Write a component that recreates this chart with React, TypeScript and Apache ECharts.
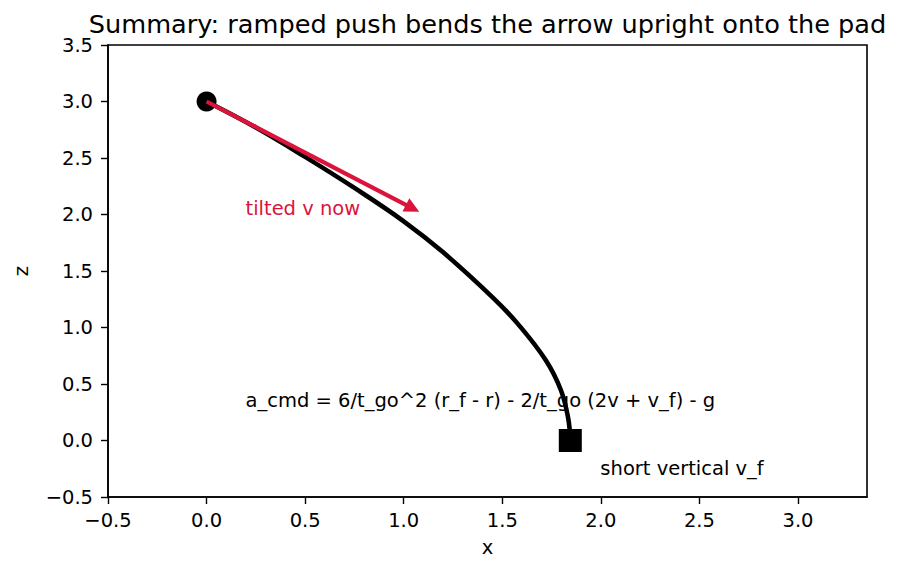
import React, { useEffect, useRef } from "react";
import * as echarts from "echarts";

// ---- data ----
const xTicks = [-0.5, 0, 0.5, 1.0, 1.5, 2.0, 2.5, 3.0];
const yTicks = [-0.5, 0, 0.5, 1.0, 1.5, 2.0, 2.5, 3.0, 3.5];
const xRange = [-0.5, 3.35];
const yRange = [-0.5, 3.5];

const pathX = [0, 0.25, 0.5, 0.75, 1.0, 1.2, 1.456, 1.58, 1.72, 1.797, 1.834, 1.845];
const pathZ = [3.0, 2.77, 2.51, 2.235, 1.94, 1.665, 1.258, 1.03, 0.712, 0.447, 0.2, 0.0];

const startPoint = [0, 3];
const padPoint = [1.845, 0];
const velocityTip = [1.045, 2.055];

const titleText = "Summary: ramped push bends the arrow upright onto the pad";
const noteTexts = ["tilted v now", "a_cmd = 6/t_go^2 (r_f - r) - 2/t_go (2v + v_f) - g", "short vertical v_f"];
const noteX = [0.2, 0.2, 2.0];
const noteZ = [2.0, 0.3, -0.3];
const noteColors = ["#DC143C", "#000000", "#000000"];

const FONT = "DejaVu Sans";
const fmt = (v: number) => (v < 0 ? "\u2212" + Math.abs(v).toFixed(1) : v.toFixed(1));

export default function App() {
  const ref = useRef<HTMLDivElement>(null);
  useEffect(() => {
    const chart = echarts.init(ref.current!, null, { renderer: "svg" });
    const curve = pathX.map((x, i) => [x, pathZ[i]]);
    chart.setOption({
      animation: false,
      backgroundColor: "#ffffff",
      textStyle: { fontFamily: FONT },
      title: {
        text: titleText,
        left: 482.5,
        textAlign: "center",
        top: 6,
        textStyle: { fontFamily: FONT, fontSize: 25.6, fontWeight: "normal", color: "#000" },
      },
      grid: {
        left: 108,
        right: 33,
        top: 45,
        bottom: 76,
        show: true,
        borderColor: "#000",
        borderWidth: 1.6,
        backgroundColor: "transparent",
      },
      xAxis: {
        type: "value",
        min: xRange[0],
        max: xRange[1],
        interval: 0.5,
        name: "x",
        nameLocation: "middle",
        nameGap: 40,
        nameTextStyle: { fontFamily: FONT, fontSize: 19.5, color: "#000" },
        axisLine: { show: true, onZero: false, lineStyle: { color: "#000", width: 1.6 } },
        axisTick: { show: true, length: 7, customValues: xTicks, lineStyle: { color: "#000", width: 1.4 } },
        axisLabel: {
          show: true,
          margin: 13,
          customValues: xTicks,
          formatter: fmt,
          fontFamily: FONT,
          fontSize: 19.5,
          color: "#000",
        },
        splitLine: { show: false },
      },
      yAxis: {
        type: "value",
        min: yRange[0],
        max: yRange[1],
        interval: 0.5,
        name: "z",
        nameLocation: "middle",
        nameGap: 77,
        nameRotate: 90,
        nameTextStyle: { fontFamily: FONT, fontSize: 19.5, color: "#000" },
        axisLine: { show: true, onZero: false, lineStyle: { color: "#000", width: 1.6 } },
        axisTick: { show: true, length: 7, customValues: yTicks, lineStyle: { color: "#000", width: 1.4 } },
        axisLabel: {
          show: true,
          margin: 15,
          customValues: yTicks,
          formatter: fmt,
          fontFamily: FONT,
          fontSize: 19.5,
          color: "#000",
        },
        splitLine: { show: false },
      },
      series: [
        {
          type: "line",
          data: curve,
          smooth: 0.4,
          smoothConstraint: false,
          showSymbol: false,
          symbol: "none",
          lineStyle: { color: "#000", width: 4.6, opacity: 1 },
          z: 2,
        },
        {
          type: "scatter",
          data: [startPoint],
          symbol: "circle",
          symbolSize: 20,
          itemStyle: { color: "#000", opacity: 1 },
          z: 3,
        },
        {
          type: "lines",
          coordinateSystem: "cartesian2d",
          polyline: false,
          data: [{ coords: [startPoint, velocityTip] }],
          symbol: ["none", "triangle"],
          symbolSize: 15,
          lineStyle: { color: "#DC143C", width: 4.2, opacity: 1 },
          itemStyle: { color: "#DC143C", opacity: 1 },
          z: 4,
        },
        {
          type: "scatter",
          data: [padPoint],
          symbol: "rect",
          symbolSize: 23,
          itemStyle: { color: "#000", opacity: 1 },
          z: 5,
        },
        {
          type: "scatter",
          data: noteTexts.map((t, i) => ({
            value: [noteX[i], noteZ[i]],
            name: t,
            label: { color: noteColors[i] },
          })),
          symbolSize: 1,
          itemStyle: { color: "transparent", opacity: 1 },
          silent: true,
          z: 6,
          label: {
            show: true,
            position: [0, 0],
            align: "left",
            verticalAlign: "middle",
            offset: [0, -5.5],
            opacity: 1,
            fontFamily: FONT,
            fontSize: 19.5,
            formatter: (p: any) => p.name,
          },
        },
      ],
    });
    return () => chart.dispose();
  }, []);
  return (
    <div
      ref={ref}
      style={{ position: "absolute", left: 0, top: 0, width: 900, height: 573, background: "#fff" }}
    />
  );
}
